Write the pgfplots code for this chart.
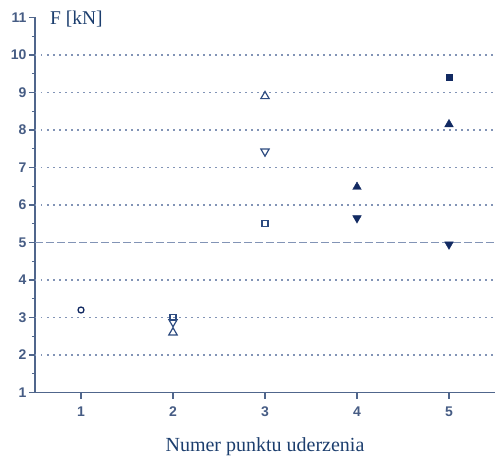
\documentclass[border=0pt]{standalone}
\usepackage{pgfplots}
\pgfplotsset{compat=1.18}
\usepackage{fontspec}
\setmainfont{Liberation Serif}
\newfontfamily\arialf{Liberation Sans}
\definecolor{axiscol}{RGB}{80,102,140}
\definecolor{ticklab}{RGB}{70,92,132}
\definecolor{gridcol}{RGB}{130,148,182}
\definecolor{navy}{RGB}{18,42,98}
\definecolor{openmk}{RGB}{45,75,128}
\definecolor{textcol}{RGB}{28,62,110}
\begin{document}
\begin{tikzpicture}
\begin{axis}[
  name=ax,
  scale only axis,
  width=460pt, height=375pt,
  xmin=0.5, xmax=5.5, ymin=1, ymax=11,
  axis lines=left,
  axis line style={axiscol, line width=1.6pt, -},
  xtick={1,2,3,4,5},
  ytick={1,2,...,11},
  minor y tick num=1,
  tick align=outside,
  major tick length=6pt,
  minor tick length=3pt,
  tick style={axiscol, line width=1.2pt},
  minor tick style={axiscol, line width=1.2pt},
  /pgf/number format/assume math mode=true,
  tick label style={font=\arialf\bfseries\fontsize{14}{16}\selectfont, text=ticklab},
  yticklabel style={xshift=1pt},
  xticklabel style={yshift=-5pt},
  clip=false,
]
% grid lines
\foreach \yy in {2,3,4,6,7,8,9,10}{
  \edef\tmp{\noexpand\draw[gridcol, line width=1.3pt, dash pattern=on 1.5pt off 4.5pt] (axis cs:0.5,\yy) -- (axis cs:5.5,\yy);}
  \tmp
}
\draw[gridcol, line width=1.6pt, dash pattern=on 8pt off 3pt] (axis cs:0.5,5) -- (axis cs:5.5,5);

% open circle
\addplot[only marks, mark=o, mark size=3pt, navy, line width=1.3pt] coordinates {(1,3.2)};
% open square
\addplot[only marks, mark=square, mark size=3pt, openmk, line width=1.2pt] coordinates {(2,2.99) (3,5.5)};
% open triangle up
\addplot[only marks, mark=triangle, mark size=4.8pt, openmk, line width=1.2pt] coordinates {(2,2.6) (3,8.9)};
% open triangle down
\addplot[only marks, mark=triangle, mark options={rotate=180}, mark size=4.8pt, openmk, line width=1.2pt] coordinates {(2,2.88) (3,7.43)};
% filled triangle up
\addplot[only marks, mark=triangle*, mark size=5pt, navy, fill=navy] coordinates {(4,6.48) (5,8.15)};
% filled triangle down
\addplot[only marks, mark=triangle*, mark options={rotate=180}, mark size=5pt, navy, fill=navy] coordinates {(4,5.65) (5,4.95)};
% filled square
\addplot[only marks, mark=square*, mark size=3.3pt, navy, fill=navy] coordinates {(5,9.41)};
\end{axis}
\node[anchor=base west, text=textcol, font=\fontsize{19.5}{22}\selectfont, inner sep=0pt] at ([xshift=15pt,yshift=-7.5pt]ax.north west) {F [kN]};
\node[anchor=base, text=textcol, font=\fontsize{20}{22}\selectfont, inner sep=0pt] at ([yshift=-58.5pt]ax.south) {Numer punktu uderzenia};
\pgfresetboundingbox
\path ([xshift=-35pt,yshift=-65.5pt]ax.south west) rectangle ++(495pt,458pt);
\end{tikzpicture}
\end{document}
